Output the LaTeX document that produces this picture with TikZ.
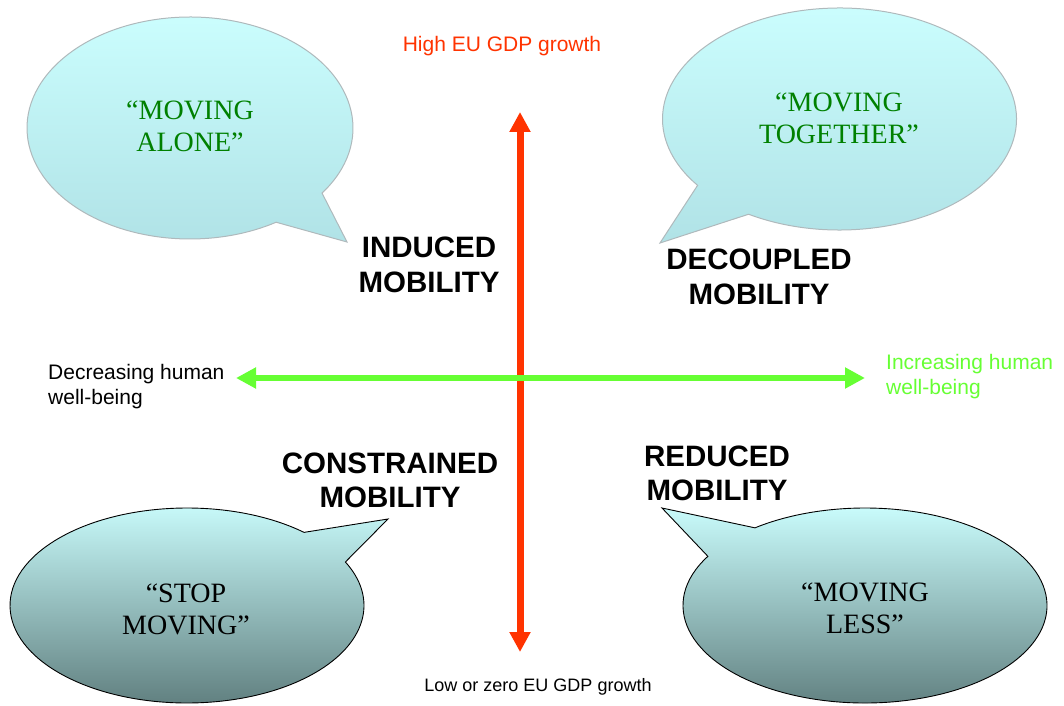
\documentclass[tikz,border=0pt]{standalone}
\usepackage{fontspec}
\setmainfont{Liberation Serif}
\newfontfamily\labelsans{Liberation Sans}
\usetikzlibrary{arrows.meta,calc}
\definecolor{gdpred}{RGB}{255,51,0}
\definecolor{wellgreen}{RGB}{102,255,51}
\definecolor{quotegreen}{RGB}{0,128,0}
\definecolor{skytop}{RGB}{204,255,255}
\definecolor{skybottom}{RGB}{176,226,230}
\definecolor{slatetop}{RGB}{204,255,255}
\definecolor{slatemid}{RGB}{160,208,208}
\definecolor{slatebottom}{RGB}{92,122,122}
\definecolor{softedge}{RGB}{175,185,188}
\begin{document}
\begin{tikzpicture}[x=1pt,y=1pt,
  lightbubble/.style={top color=skytop, bottom color=skybottom, draw=softedge, line width=1pt},
  darkbubble/.style={top color=slatetop, middle color=slatemid, bottom color=slatebottom, draw=black, line width=0.9pt},
  bubbletext/.style={font=\fontsize{28}{32}\selectfont, align=center, inner sep=0pt},
  quadrant/.style={font=\labelsans\bfseries\fontsize{29.5}{34.5}\selectfont, align=center, inner sep=0pt},
  axislabel/.style={font=\labelsans\fontsize{21}{25}\selectfont, align=left, inner sep=0pt},
  bigtip/.tip={Triangle[length=20pt,width=20pt]}]
\useasboundingbox (0,0) rectangle (1064,705);

% speech bubbles: ellipse arc with a pointed tail
\coordinate (tlc) at (190,577);
\coordinate (tltip) at (347,463);
\path[lightbubble] (tltip) -- ($(tlc)+(-35.9:163 and 111)$)
  arc[start angle=-35.9, end angle=301.9, x radius=163, y radius=111] -- cycle;

\coordinate (trc) at (839.5,586);
\coordinate (trtip) at (660,462);
\path[lightbubble] (trtip) -- ($(trc)+(239.1:177 and 111)$)
  arc[start angle=239.1, end angle=576.7, x radius=177, y radius=111] -- cycle;

\coordinate (blc) at (187,99.5);
\coordinate (bltip) at (388,186);
\path[darkbubble] (bltip) -- ($(blc)+(48.6:177 and 97.5)$)
  arc[start angle=48.6, end angle=386.5, x radius=177, y radius=97.5] -- cycle;

\coordinate (brc) at (865,99.5);
\coordinate (brtip) at (662,197);
\path[darkbubble] (brtip) -- ($(brc)+(149.7:182 and 97.5)$)
  arc[start angle=149.7, end angle=487.2, x radius=182, y radius=97.5] -- cycle;

% bubble texts
\node[bubbletext, text=quotegreen] (alone) at (190,579) {“MOVING\\ALONE”};
\node[bubbletext, text=quotegreen] (together) at (839,587) {“MOVING\\TOGETHER”};
\node[bubbletext] (stop) at (186,95.5) {“STOP\\MOVING”};
\node[bubbletext] (less) at (865,96.5) {“MOVING\\LESS”};

% axes
\coordinate (gdplow) at (520,53);
\coordinate (gdphigh) at (520,593);
\coordinate (wbleft) at (236,327);
\coordinate (wbright) at (865,327);
\draw[gdpred, line width=7pt, bigtip-bigtip] (gdplow) -- (gdphigh);
\draw[wellgreen, line width=6.5pt, bigtip-bigtip] (wbleft) -- (wbright);

% axis labels
\node[axislabel, text=gdpred] (high) at (502,659) {High EU GDP growth};
\node[axislabel, font=\labelsans\fontsize{18}{22}\selectfont] (low) at (538,18) {Low or zero EU GDP growth};
\node[axislabel, anchor=west] (decr) at (48,318.5) {Decreasing human\\well-being};
\node[axislabel, anchor=west, text=wellgreen] (incr) at (886,328.5) {Increasing human\\well-being};

% quadrant names
\node[quadrant] (induced) at (429,440) {INDUCED\\MOBILITY};
\node[quadrant] (decoupled) at (759,428) {DECOUPLED\\MOBILITY};
\node[quadrant] (constrained) at (390,224.5) {CONSTRAINED\\MOBILITY};
\node[quadrant] (reduced) at (717,231.5) {REDUCED\\MOBILITY};
\end{tikzpicture}
\end{document}
